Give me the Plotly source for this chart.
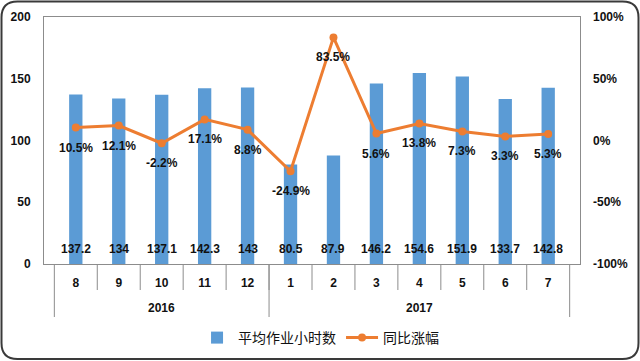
import plotly.graph_objects as go

months = ["8", "9", "10", "11", "12", "1", "2", "3", "4", "5", "6", "7"]
years = ["2016", "2017"]
year_counts = [5, 7]
hours = [137.2, 134, 137.1, 142.3, 143, 80.5, 87.9, 146.2, 154.6, 151.9, 133.7, 142.8]
yoy_pct = [10.5, 12.1, -2.2, 17.1, 8.8, -24.9, 83.5, 5.6, 13.8, 7.3, 3.3, 5.3]
pct_ticks = [-100, -50, 0, 50, 100]

W, H = 640, 361
L, R, T, B = 44, 60, 17, 97
PW, PH = W - L - R, H - T - B


def fx(px):
    return (px - L) / PW


def fy(py):
    return (H - B - py) / PH


BAR_C = "#5B9BD5"
LINE_C = "#ED7D31"
LAB_FONT = dict(family="Liberation Sans, Arial, sans-serif",
                size=12, color="#111111", weight="bold")
TICK_FONT = dict(family="Liberation Sans, Arial, sans-serif", size=12, color="#111111", weight="bold")

fig = go.Figure()
fig.add_trace(go.Bar(x=months, y=hours, name="平均作业小时数", marker_color=BAR_C,
                     marker_line_width=0, yaxis="y"))
fig.add_trace(go.Scatter(x=months, y=[p / 100 for p in yoy_pct], name="同比涨幅", yaxis="y2",
                         mode="lines+markers", line=dict(color=LINE_C, width=3),
                         marker=dict(color=LINE_C, size=8)))

ann = []
for i, v in enumerate(hours):
    ann.append(dict(x=i, y=0, xref="x", yref="y", text=f"{v:g}", showarrow=False,
                    yshift=15, font=LAB_FONT))
for i, p in enumerate(yoy_pct):
    ann.append(dict(x=i, y=p / 100, xref="x", yref="y2", text=f"{p:.1f}%", showarrow=False,
                    yshift=-20, font=LAB_FONT))

shapes = []
GRID_C = "#8c8c8c"
# month dividers (short)
for i in range(len(months) - 1):
    shapes.append(dict(type="line", xref="x", yref="paper", x0=i + 0.5, x1=i + 0.5,
                       y0=0, y1=fy(290), line=dict(color=GRID_C, width=1)))
# year dividers (long) + year labels
start = 0
bounds = [-0.5]
for yr, c in zip(years, year_counts):
    mid = start + (c - 1) / 2
    ann.append(dict(x=mid, y=fy(308), xref="x", yref="paper", text=yr, showarrow=False,
                    font=TICK_FONT, yanchor="middle"))
    start += c
    bounds.append(start - 0.5)
for b in bounds:
    shapes.append(dict(type="line", xref="x", yref="paper", x0=b, x1=b,
                       y0=0, y1=fy(317), line=dict(color=GRID_C, width=1)))

# rounded outer border
x0, y0, x1, y1 = fx(1.5), fy(1.5), fx(638.5), fy(359)
r = 16
rx, ry = r / PW, r / PH
path = (f"M {x0+rx},{y0} L {x1-rx},{y0} Q {x1},{y0} {x1},{y0-ry} "
        f"L {x1},{y1+ry} Q {x1},{y1} {x1-rx},{y1} "
        f"L {x0+rx},{y1} Q {x0},{y1} {x0},{y1+ry} "
        f"L {x0},{y0-ry} Q {x0},{y0} {x0+rx},{y0} Z")
shapes.append(dict(type="path", xref="paper", yref="paper", path=path,
                   line=dict(color="#3a3a3a", width=2)))

fig.update_layout(
    width=W, height=H,
    margin=dict(l=L, r=R, t=T, b=B, autoexpand=False),
    paper_bgcolor="white", plot_bgcolor="white",
    bargap=0.69,
    showlegend=True,
    legend=dict(orientation="h", x=0.515, xanchor="center", y=fy(338), yanchor="middle",
                font=dict(family="Noto Sans CJK SC", size=14, color="#111111"),
                itemwidth=32, tracegroupgap=0),
    xaxis=dict(type="category", showline=True, linecolor=GRID_C, linewidth=1, mirror=True,
               ticks="", tickfont=TICK_FONT, showgrid=False, zeroline=False,
               ticklabelstandoff=8, automargin=False),
    yaxis=dict(range=[0, 200], dtick=50, showgrid=False, zeroline=False, showline=True,
               linecolor=GRID_C, mirror=True, ticks="", tickfont=TICK_FONT,
               ticklabelstandoff=10, automargin=False),
    yaxis2=dict(range=[-1, 1], tickvals=[t / 100 for t in pct_ticks],
                ticktext=[f"{t}%" for t in pct_ticks], overlaying="y", side="right",
                showgrid=False, zeroline=False, showline=False, ticks="",
                tickfont=TICK_FONT, ticklabelstandoff=12, automargin=False),
    annotations=ann,
    shapes=shapes,
)

fig.write_html("out.html", config={"displayModeBar": False},
               post_script="document.body.style.margin='0';")
